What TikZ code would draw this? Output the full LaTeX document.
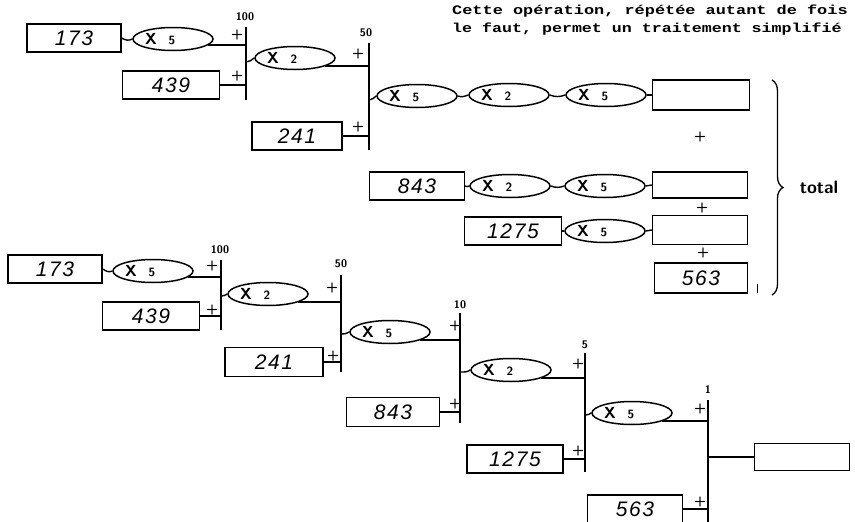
\documentclass[tikz,border=0pt]{standalone}
\usepackage{fontspec}
\usepackage{graphicx}
\usetikzlibrary{shapes.geometric,decorations.pathreplacing}
\newfontfamily\monob{Liberation Mono}
\newfontfamily\digitfont[LetterSpace=8]{Liberation Sans}
\tikzset{
  numbox/.style={draw, line width=1.1pt, minimum width=94pt, minimum height=28pt, inner sep=0pt,
    font=\digitfont\itshape\fontsize{21}{21}\selectfont},
  resbox/.style={draw, line width=1.1pt, minimum width=95pt, minimum height=28pt, inner sep=0pt},
  mulell/.style={draw, ellipse, line width=1.5pt, minimum width=80pt, minimum height=23pt, inner sep=0pt,
    font=\sffamily\bfseries\fontsize{16}{16}\selectfont},
  barline/.style={line width=2.2pt},
  link/.style={line width=1.4pt},
  plus/.style={font=\sffamily\bfseries\fontsize{14}{14}\selectfont, inner sep=0pt},
  barlab/.style={font=\sffamily\bfseries\fontsize{11}{11}\selectfont, inner sep=0pt},
  headtxt/.style={font=\monob\bfseries\fontsize{13}{13}\selectfont, anchor=west, inner sep=0pt}
}
\newcommand{\mul}[1]{\makebox[56pt][l]{X\hspace{12pt}{\fontsize{12}{12}\selectfont #1}}}
\begin{document}
\begin{tikzpicture}[x=1pt,y=-1pt]
\useasboundingbox (0,0) rectangle (855,522);
% heading text
\node[headtxt] (h1) at (452,11) {\scalebox{1.3}[1]{Cette opération, répétée autant de fois}};
\node[headtxt] (h2) at (452,29) {\scalebox{1.28}[1]{le faut, permet un traitement simplifié}};

% ---------- top section ----------
\node[numbox] (b1) at (74,38) {173};
\node[mulell] (e1) at (173,39) {\mul{5}};
\coordinate (At) at (246,27); \coordinate (Ab) at (246,100);
\draw[barline] (At) -- (Ab);
\node[barlab] (l100a) at (245,17) {100};
\node[numbox, minimum width=97pt] (b2) at (171,85) {439};
\node[plus] (pa1) at (237,35) {+};
\node[plus] (pa2) at (237,76) {+};
\coordinate (Aout) at (246,62);
\node[mulell] (e2) at (295,58) {\mul{2}};
\coordinate (Bt) at (369,43); \coordinate (Bb) at (369,150);
\draw[barline] (Bt) -- (Bb);
\node[barlab] (l50a) at (366,33) {50};
\node[plus] (pb1) at (358,54) {+};
\node[numbox, minimum width=90pt] (b3) at (297,136) {241};
\node[plus] (pb2) at (358,127) {+};
\coordinate (Bout) at (369,100);
\node[mulell] (e3) at (417,96) {\mul{5}};
\node[mulell] (e4) at (509,95) {\mul{2}};
\node[mulell] (e5) at (606,95) {\mul{5}};
\node[resbox, minimum width=97pt, minimum height=30pt] (r1) at (701,95) {};
\node[plus] (pr1) at (700,137) {+};
\node[numbox, minimum width=95pt] (b4) at (417,186) {843};
\node[mulell] (e6) at (510,186) {\mul{2}};
\node[mulell] (e7) at (605,186) {\mul{5}};
\node[resbox, minimum height=26pt] (r2) at (700,185) {};
\node[plus] (pr2) at (702,208) {+};
\node[numbox, minimum width=97pt] (b5) at (513,231) {1275};
\node[mulell] (e8) at (605,231) {\mul{5}};
\node[resbox, minimum height=29pt] (r3) at (700,230) {};
\node[plus] (pr3) at (703,253) {+};
\node[numbox, minimum width=93pt, minimum height=30pt] (b6) at (701,278) {563};
\coordinate (tk1) at (757,284); \coordinate (tk2) at (757,293);
\draw[line width=0.8pt] (tk1) -- (tk2);
\coordinate (brT) at (772,80); \coordinate (brB) at (772,295);
\draw[line width=1.3pt, decorate, decoration={brace, amplitude=11pt}] (brT) -- (brB);
\node[font=\sffamily\bfseries\fontsize{18}{18}\selectfont, inner sep=0pt] (tot) at (819,187) {total};

\draw[link] (b1.east) to[out=-30,in=210] (e1.west);
\draw[link] (e1.-10) -- (e1.-10 -| At);
\draw[link] (b2.east) -- (b2.east -| At);
\draw[link] (Aout) to[out=0,in=215] (e2.west);
\draw[link] (e2.-15) -- (e2.-15 -| Bt);
\draw[link] (b3.east) -- (b3.east -| Bt);
\draw[link] (Bout) to[out=0,in=215] (e3.west);
\draw[link] (e3.east) to[out=-20,in=200] (e4.west);
\draw[link] (e4.east) to[out=-20,in=200] (e5.west);
\draw[link] (e5.east) -- (r1.west);
\draw[link] (b4.east) to[out=-30,in=210] (e6.west);
\draw[link] (e6.east) to[out=-20,in=200] (e7.west);
\draw[link] (e7.east) -- (r2.west);
\draw[link] (b5.east) to[out=-30,in=210] (e8.west);
\draw[link] (e8.east) -- (r3.west);

% ---------- bottom section ----------
\node[numbox] (c1) at (55,269) {173};
\node[mulell] (f1) at (153,271) {\mul{5}};
\coordinate (Ct) at (221,260); \coordinate (Cb) at (221,330);
\draw[barline] (Ct) -- (Cb);
\node[barlab] (l100b) at (220,250) {100};
\node[plus] (pc1) at (212,266) {+};
\node[numbox, minimum width=97pt] (c2) at (151,316) {439};
\node[plus] (pc2) at (212,310) {+};
\coordinate (Cout) at (221,296);
\node[mulell] (f2) at (268,294) {\mul{2}};
\coordinate (Dt) at (341,275); \coordinate (Db) at (341,372);
\draw[barline] (Dt) -- (Db);
\node[barlab] (l50b) at (341,264) {50};
\node[plus] (pd1) at (332,288) {+};
\node[numbox, minimum width=98pt, minimum height=29pt] (c3) at (274,362) {241};
\node[plus] (pd2) at (333,356) {+};
\coordinate (Dout) at (341,334);
\node[mulell] (f3) at (390,332) {\mul{5}};
\coordinate (Et) at (460,313); \coordinate (Eb) at (460,423);
\draw[barline] (Et) -- (Eb);
\node[barlab] (l10) at (460,305) {10};
\node[plus] (pe1) at (455,326) {+};
\node[numbox, minimum width=93pt, minimum height=29pt] (c4) at (393,412) {843};
\node[plus] (pe2) at (455,404) {+};
\coordinate (Eout) at (460,372);
\node[mulell] (f4) at (511,370) {\mul{2}};
\coordinate (Ft) at (585,353); \coordinate (Fb) at (585,472);
\draw[barline] (Ft) -- (Fb);
\node[barlab] (l5) at (585,345) {5};
\node[plus] (pf1) at (578,364) {+};
\node[numbox, minimum width=96pt] (c5) at (515,459) {1275};
\node[plus] (pf2) at (578,451) {+};
\coordinate (Fout) at (585,415);
\node[mulell] (f5) at (632,413) {\mul{5}};
\coordinate (Gt) at (708,400); \coordinate (Gb) at (708,522);
\draw[barline] (Gt) -- (Gb);
\node[barlab] (l1) at (708,390) {1};
\node[plus] (pg1) at (700,409) {+};
\node[numbox, minimum width=95pt] (c6) at (635,509) {563};
\node[plus] (pg2) at (700,502) {+};
\node[resbox, minimum height=27pt] (out) at (802,457) {};
\coordinate (Gout) at (708,457);

\draw[link] (c1.east) to[out=-30,in=210] (f1.west);
\draw[link] (f1.-10) -- (f1.-10 -| Ct);
\draw[link] (c2.east) -- (c2.east -| Ct);
\draw[link] (Cout) to[out=0,in=215] (f2.west);
\draw[link] (f2.-15) -- (f2.-15 -| Dt);
\draw[link] (c3.east) -- (c3.east -| Dt);
\draw[link] (Dout) to[out=0,in=215] (f3.west);
\draw[link] (f3.-15) -- (f3.-15 -| Et);
\draw[link] (c4.east) -- (c4.east -| Et);
\draw[link] (Eout) to[out=0,in=215] (f4.west);
\draw[link] (f4.-15) -- (f4.-15 -| Ft);
\draw[link] (c5.east) -- (c5.east -| Ft);
\draw[link] (Fout) to[out=0,in=215] (f5.west);
\draw[link] (f5.-15) -- (f5.-15 -| Gt);
\draw[link] (c6.east) -- (c6.east -| Gt);
\draw[link] (Gout) -- (out.west);
\end{tikzpicture}
\end{document}
